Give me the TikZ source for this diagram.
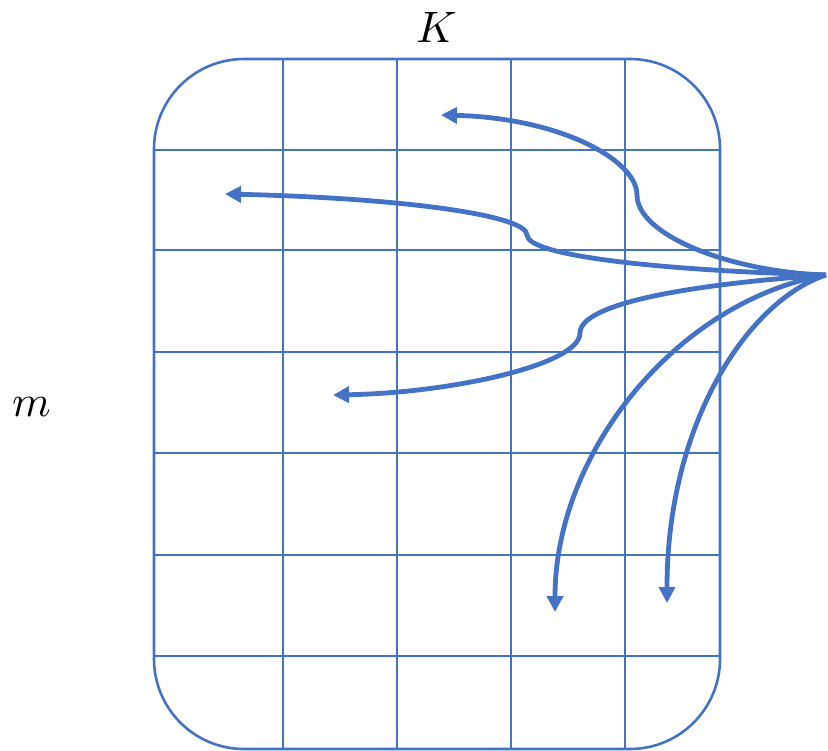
\documentclass[tikz,border=0pt]{standalone}
\usepackage{unicode-math}
\usetikzlibrary{arrows.meta}
\definecolor{accent}{RGB}{68,114,196}
\tikzset{
  gridline/.style={draw=accent, line width=1.3pt},
  boxline/.style={draw=accent, line width=2.6pt},
  flow/.style={draw=accent, line width=4.8pt, -{Triangle[length=16pt,width=16pt]}},
  lbl/.style={font=\fontsize{44}{50}\selectfont, inner sep=0pt}
}
\begin{document}
\begin{tikzpicture}[x=1pt,y=-1pt]
\useasboundingbox (0,0) rectangle (828,751);
% grid clipped to the rounded box
\begin{scope}
  \clip[rounded corners=90pt] (154,59) rectangle (720,749);
  \foreach \yy in {150,250,352,453,555,656} \draw[gridline] (150,\yy) -- (724,\yy);
  \foreach \xx in {283,397,511,625} \draw[gridline] (\xx,55) -- (\xx,753);
\end{scope}
\draw[boxline, rounded corners=90pt] (154,59) rectangle (720,749);
\node[lbl] (K) at (437,27) {$K$};
\node[lbl] (m) at (32,407) {$m$};
% connectors
\coordinate (src) at (826,275);
\coordinate (k1) at (637,195);
\coordinate (e1) at (441,115);
\coordinate (k2) at (527,235);
\coordinate (e2) at (225,194);
\coordinate (k3) at (580,333);
\coordinate (e3) at (333,395);
\coordinate (e4) at (555,612);
\coordinate (e5) at (667,603);
\draw[flow] (src) .. controls (730,272) and (637,235) .. (k1)
                  .. controls (637,160) and (560,118) .. (e1);
\draw[flow] (src) .. controls (650,270) and (527,255) .. (k2)
                  .. controls (527,215) and (400,198) .. (e2);
\draw[flow] (src) .. controls (680,285) and (580,305) .. (k3)
                  .. controls (580,365) and (450,393) .. (e3);
\draw[flow] (src) .. controls (680,300) and (555,450) .. (e4);
\draw[flow] (src) .. controls (750,300) and (667,420) .. (e5);
\end{tikzpicture}
\end{document}
